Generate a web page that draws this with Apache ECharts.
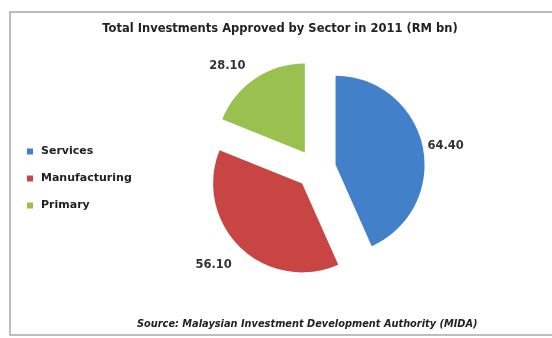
<!DOCTYPE html>
<html>
<head>
<meta charset="utf-8">
<script src="https://cdn.jsdelivr.net/npm/echarts@6/dist/echarts.min.js"></script>
<style>
  html, body { margin: 0; padding: 0; background: #ffffff; }
  #chart { width: 552px; height: 338px; }
</style>
</head>
<body>
<div id="chart"></div>
<script>
// Sector breakdown of approved investments, 2011 (RM bn)
const sectors = ['Services', 'Manufacturing', 'Primary'];
const amounts = [64.40, 56.10, 28.10];
const sectorColors = ['#4380CA', '#C94543', '#9AC050'];
// small nudges so each value label sits clear of its exploded slice
const labelNudges = [[-8, 1], [2, 12], [0, -6]];

const FONT = '"DejaVu Sans", sans-serif';

const chart = echarts.init(document.getElementById('chart'), null, { renderer: 'canvas' });

const pieData = sectors.map((name, i) => ({
  name: name,
  value: amounts[i],
  selected: true,
  itemStyle: { color: sectorColors[i] }
}));

chart.setOption({
  backgroundColor: '#ffffff',
  animation: false,
  title: {
    text: 'Total Investments Approved by Sector in 2011 (RM bn)',
    left: 275,
    textAlign: 'center',
    top: 18,
    textStyle: { fontFamily: FONT, fontSize: 11.5, fontWeight: 'bold', color: '#222' }
  },
  legend: {
    orient: 'vertical',
    left: 22,
    top: 141,
    itemWidth: 6,
    itemHeight: 6,
    itemGap: 16,
    icon: 'rect',
    selectedMode: false,
    textStyle: { fontFamily: FONT, fontSize: 11, fontWeight: 'bold', color: '#222', padding: [0, 0, 0, 3] },
    data: sectors
  },
  graphic: [
    {
      type: 'rect',
      shape: { x: 10, y: 12, width: 560, height: 323 },
      style: { fill: null, stroke: '#a8a8a8', lineWidth: 1.5 },
      silent: true,
      z: -1
    },
    {
      type: 'text',
      left: 137,
      top: 319,
      style: {
        text: 'Source: Malaysian Investment Development Authority (MIDA)',
        font: 'italic bold 9.8px ' + FONT,
        fill: '#222'
      }
    }
  ],
  series: [{
    type: 'pie',
    center: [316, 169],
    radius: 89,
    startAngle: 90,
    clockwise: true,
    selectedMode: 'multiple',
    selectedOffset: 20,
    emphasis: { disabled: true },
    label: {
      show: true,
      position: 'outside',
      formatter: p => p.value.toFixed(2),
      fontFamily: FONT,
      fontSize: 11.5,
      fontWeight: 'bold',
      color: '#333'
    },
    labelLine: { show: false, length: 8, length2: 0 },
    labelLayout: p => ({ dx: labelNudges[p.dataIndex][0], dy: labelNudges[p.dataIndex][1] }),
    data: pieData
  }]
});
</script>
</body>
</html>
